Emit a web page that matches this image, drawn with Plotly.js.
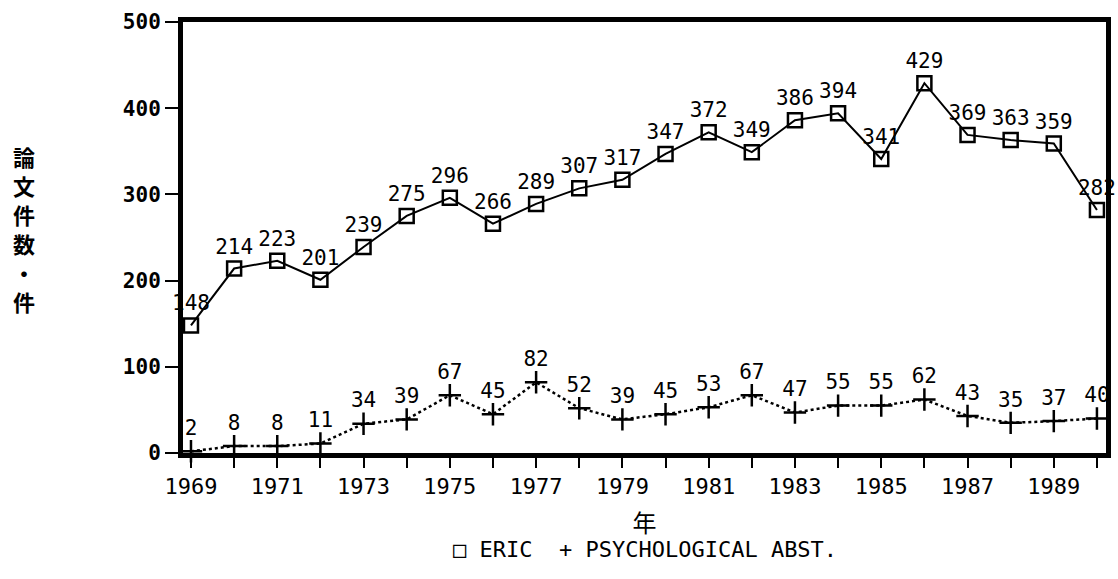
<!DOCTYPE html>
<html>
<head>
<meta charset="utf-8">
<script src="https://cdn.plot.ly/plotly-3.0.1.min.js"></script>
<style>html,body{margin:0;padding:0;background:#fff;}#chart{width:1118px;height:579px;}</style>
</head>
<body>
<div id="chart"></div>
<script>
const years = [1969,1970,1971,1972,1973,1974,1975,1976,1977,1978,1979,1980,1981,1982,1983,1984,1985,1986,1987,1988,1989,1990];
const ericValues = [148,214,223,201,239,275,296,266,289,307,317,347,372,349,386,394,341,429,369,363,359,282];
const psychValues = [2,8,8,11,34,39,67,45,82,52,39,45,53,67,47,55,55,62,43,35,37,40];
const yTickVals = [0,100,200,300,400,500];
const xTickText = years.map(y => (y % 2 === 1 ? String(y) : ''));
const seriesNames = ['ERIC','PSYCHOLOGICAL ABST.'];
const xTitle = '年';
const yTitle = '論文件数・件';

const mono = 'DejaVu Sans Mono, Liberation Mono, monospace';

const traces = [
  {
    x: years, y: ericValues, name: seriesNames[0],
    mode: 'lines+markers+text', type: 'scatter',
    text: ericValues.map(String), textposition: 'top center',
    textfont: {family: mono, size: 21, color: '#000'},
    line: {color: '#000', width: 2},
    marker: {symbol: 'square-open', size: 14, color: '#000', line: {width: 2.5, color: '#000'}},
    cliponaxis: false
  },
  {
    x: years, y: psychValues, name: seriesNames[1],
    mode: 'lines+markers+text', type: 'scatter',
    text: psychValues.map(String), textposition: 'top center',
    textfont: {family: mono, size: 21, color: '#000'},
    line: {color: '#000', width: 2.5, dash: 'dot'},
    marker: {symbol: 'cross-thin-open', size: 16, color: '#000', line: {width: 2.5, color: '#000'}},
    cliponaxis: false
  }
];

// vertical (stacked) y-axis title: one annotation per character
const plotTopPx = 22, plotHeightPx = 431, titleCenterPx = 228, charPitchPx = 29;
const yTitleChars = yTitle.split('');
const yTitleAnns = yTitleChars.map((ch, i) => {
  const py = titleCenterPx + (i - (yTitleChars.length - 1) / 2) * charPitchPx;
  return {
    xref: 'paper', yref: 'paper', x: -0.172, y: 1 - (py - plotTopPx) / plotHeightPx,
    xanchor: 'center', yanchor: 'middle', showarrow: false,
    text: ch,
    font: {family: 'Noto Sans CJK JP', size: 22, color: '#000', weight: 'bold'}
  };
});

const layout = {
  width: 1118, height: 579,
  margin: {l: 183, r: 12, t: 22, b: 126},
  paper_bgcolor: '#fff', plot_bgcolor: '#fff',
  showlegend: false,
  xaxis: {
    range: [1968.815, 1990.21],
    tickvals: years, ticktext: xTickText,
    ticks: 'outside', ticklen: 10, tickwidth: 2, tickcolor: '#000',
    showline: true, linewidth: 5, linecolor: '#000', mirror: true,
    showgrid: false, zeroline: false,
    tickfont: {family: mono, size: 22, color: '#000'},
    title: {text: xTitle, font: {family: 'Noto Sans CJK JP', size: 24, color: '#000'}, standoff: 18}
  },
  yaxis: {
    range: [0, 500],
    tickvals: yTickVals,
    ticks: 'outside', ticklen: 13, tickwidth: 2, tickcolor: '#000',
    showline: true, linewidth: 5, linecolor: '#000', mirror: true,
    showgrid: false, zeroline: false,
    tickfont: {family: mono, size: 21, color: '#000', weight: 'bold'}
  },
  annotations: yTitleAnns.concat([
    {
      xref: 'paper', yref: 'paper', x: 0.5, y: -0.225,
      xanchor: 'center', yanchor: 'middle', showarrow: false,
      text: '□ ' + seriesNames[0] + '  + ' + seriesNames[1],
      font: {family: mono, size: 22, color: '#000'}
    }
  ])
};

Plotly.newPlot('chart', traces, layout, {displayModeBar: false, staticPlot: true});
</script>
</body>
</html>
